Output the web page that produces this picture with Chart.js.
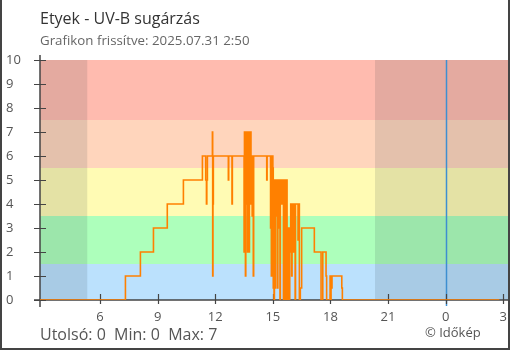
<!DOCTYPE html>
<html>
<head>
<meta charset="utf-8">
<script src="https://cdn.jsdelivr.net/npm/chart.js@4.4.0/dist/chart.umd.min.js"></script>
<style>
  html, body { margin: 0; padding: 0; background: #fff; }
</style>
</head>
<body>
<canvas id="uvChart" width="510" height="350"></canvas>
<script>
// Etyek UV-B readings, hours counted from midnight of the first day (24+ = next day)
const times = [
  2.85, 7.32, 8.10, 8.78, 9.50, 10.34, 11.33, 11.50, 11.54, 11.56, 11.59,
  11.85, 11.865, 11.88, 11.90, 12.68, 12.70, 12.87, 12.89,
  13.50, 13.52, 13.55, 13.57, 13.59, 13.61, 13.63, 13.66, 13.68, 13.70,
  13.74, 13.76, 13.78, 13.84, 13.86, 13.88, 13.92, 13.95, 13.98, 14.00,
  14.68, 14.70,
  14.88, 14.90, 14.92, 14.94, 15.00, 15.02, 15.04, 15.06, 15.08, 15.12, 15.14,
  15.18, 15.20, 15.24, 15.26, 15.29, 15.33, 15.37, 15.39, 15.45, 15.48,
  15.55, 15.57, 15.60, 15.62, 15.66, 15.70, 15.72, 15.74, 15.76, 15.80,
  15.82, 15.86, 15.88, 15.93, 15.98, 16.00, 16.07, 16.09, 16.16, 16.18,
  16.31, 16.33, 16.38, 16.43, 16.50, 17.16, 17.51, 17.60, 17.77, 17.80,
  17.98, 18.01, 18.03, 18.08, 18.59, 18.62, 26.80
];
const uvValues = [
  0, 1, 2, 3, 4, 5, 6, 5, 4, 5, 6,
  7, 1, 4, 6, 5, 6, 4, 6,
  2, 7, 6, 1, 7, 4, 6, 7, 2, 6,
  7, 2, 6, 7, 4, 6, 3.5, 6, 1, 6,
  5, 6,
  3, 6, 1, 6, 5.5, 0.5, 5, 0, 5, 0.5, 5,
  3.5, 5, 0.5, 3, 5, 3, 0, 5, 4, 5,
  0, 5, 0, 5, 3, 0, 5, 0, 3, 0,
  3, 0, 2, 4, 1, 4, 2, 4, 0, 4,
  2.5, 4, 0, 0.5, 3, 2, 0, 2, 1, 0,
  1, 0, 0.5, 1, 0.5, 0, 0
];

const xTicks = [6, 9, 12, 15, 18, 21, 24, 27];
const bandLimits = [0, 1.5, 3.5, 5.5, 7.5, 10];
const bandColors = ['#bbe1fd', '#adffbb', '#fffbb4', '#ffd5bc', '#ffbbaf'];
const sunrise = 5.33;
const sunset = 20.32;
const midnight = 24;

const points = times.map((t, i) => ({ x: t, y: uvValues[i] }));
const lastValue = uvValues[uvValues.length - 1];
const minValue = Math.min(...uvValues);
const maxValue = Math.max(...uvValues);

const FONT = '"Open Sans", "Noto Sans", sans-serif';

// background bands, night shade, midnight marker and crossing tick marks
const backdrop = {
  id: 'backdrop',
  beforeDatasetsDraw(chart) {
    const { ctx, chartArea: a, scales: { x, y } } = chart;
    ctx.save();
    for (let i = 0; i < bandColors.length; i++) {
      const top = y.getPixelForValue(bandLimits[i + 1]);
      const bot = y.getPixelForValue(bandLimits[i]);
      ctx.fillStyle = bandColors[i];
      ctx.fillRect(a.left, top, a.right - a.left, bot - top);
    }
    ctx.fillStyle = 'rgba(30, 50, 60, 0.12)';
    const rise = x.getPixelForValue(sunrise);
    ctx.fillRect(a.left, a.top, rise - a.left, a.bottom - a.top);
    const set = x.getPixelForValue(sunset);
    ctx.fillRect(set, a.top, a.right - set, a.bottom - a.top);

    // midnight
    const mx = Math.round(x.getPixelForValue(midnight)) + 0.5;
    ctx.strokeStyle = '#3d8fd1';
    ctx.lineWidth = 1.5;
    ctx.beginPath();
    ctx.moveTo(mx, a.top);
    ctx.lineTo(mx, a.bottom + 6);
    ctx.stroke();

    // axes
    ctx.strokeStyle = '#444';
    ctx.lineWidth = 1.5;
    ctx.beginPath();
    ctx.moveTo(a.left, a.top - 5);
    ctx.lineTo(a.left, a.bottom + 7);
    ctx.moveTo(a.left - 6, a.bottom);
    ctx.lineTo(a.right, a.bottom);
    ctx.stroke();

    ctx.lineWidth = 1.2;
    ctx.beginPath();
    y.ticks.forEach(t => {
      const py = Math.round(y.getPixelForValue(t.value)) + 0.5;
      ctx.moveTo(a.left - 6, py);
      ctx.lineTo(a.left + 6, py);
    });
    x.ticks.forEach(t => {
      const px = Math.round(x.getPixelForValue(t.value)) + 0.5;
      ctx.moveTo(px, a.bottom - 6);
      ctx.lineTo(px, a.bottom + 4);
    });
    ctx.stroke();
    ctx.restore();
  },
  afterDraw(chart) {
    const { ctx, width, height } = chart;
    ctx.save();
    ctx.textBaseline = 'alphabetic';
    ctx.textAlign = 'left';
    ctx.fillStyle = '#333';
    ctx.font = '16px ' + FONT;
    ctx.fillText('Etyek - UV-B sugárzás', 40, 24);
    ctx.fillStyle = '#666';
    ctx.font = '13.3px ' + FONT;
    ctx.fillText('Grafikon frissítve: 2025.07.31 2:50', 40, 45);

    ctx.fillStyle = '#555';
    ctx.font = '16px ' + FONT;
    ctx.fillText('Utolsó: ' + lastValue + '  Min: ' + minValue + '  Max: ' + maxValue, 40, 340);
    ctx.font = '13px ' + FONT;
    ctx.fillText('© Időkép', 425, 337);

    // frame
    ctx.strokeStyle = '#444';
    ctx.lineWidth = 2;
    ctx.beginPath();
    ctx.moveTo(1, 0);
    ctx.lineTo(1, height - 1);
    ctx.lineTo(width - 1, height - 1);
    ctx.lineTo(width - 1, 0);
    ctx.stroke();
    ctx.restore();
  }
};

new Chart(document.getElementById('uvChart'), {
  type: 'line',
  data: {
    datasets: [{
      label: 'UV-B',
      data: points,
      stepped: 'before',
      borderColor: '#ff8000',
      borderWidth: 1.6,
      pointRadius: 0,
      fill: false
    }]
  },
  options: {
    responsive: false,
    animation: false,
    layout: { padding: { top: 60, right: 1, left: 6, bottom: 0 } },
    plugins: {
      legend: { display: false },
      title: { display: false },
      tooltip: { enabled: false }
    },
    scales: {
      x: {
        type: 'linear',
        min: 2.87,
        max: 27.3,
        grid: { display: false },
        border: { display: false },
        afterBuildTicks: s => { s.ticks = xTicks.map(v => ({ value: v })); },
        afterFit: s => { s.height = 50; s.paddingLeft = 0; s.paddingRight = 0; },
        ticks: {
          padding: 1,
          maxRotation: 0,
          color: '#555',
          font: { family: FONT, size: 13 },
          callback: v => String(v % 24)
        }
      },
      y: {
        min: 0,
        max: 10,
        grid: { display: false },
        border: { display: false },
        afterFit: s => { s.width = 34; s.paddingTop = 0; s.paddingBottom = 0; },
        ticks: {
          stepSize: 1,
          crossAlign: 'far',
          color: '#555',
          font: { family: FONT, size: 13 }
        }
      }
    }
  },
  plugins: [backdrop]
});
</script>
</body>
</html>
